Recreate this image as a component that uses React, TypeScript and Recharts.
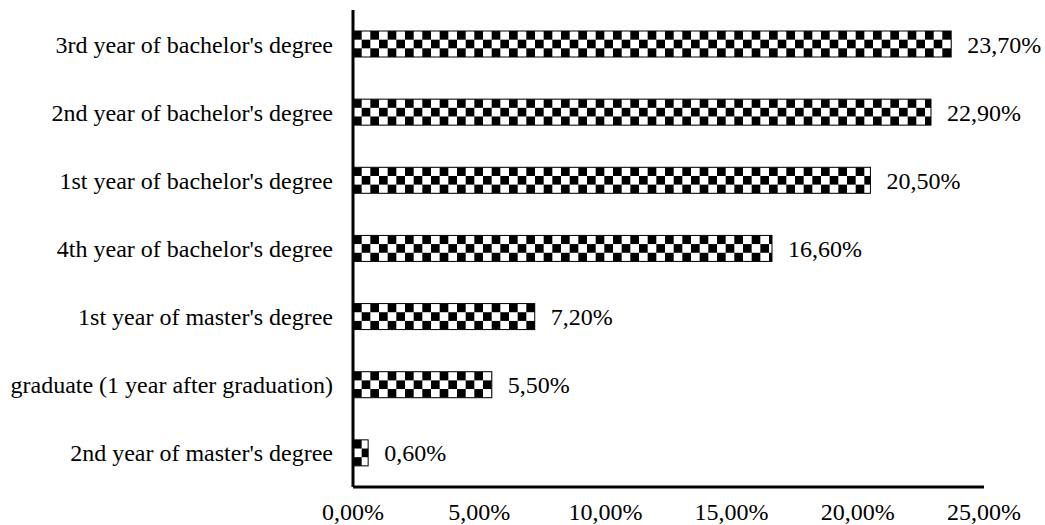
import React from 'react';
import { BarChart, Bar, XAxis, YAxis, LabelList } from 'recharts';

// Share of respondents by year of study (%)
const categories = [
  "3rd year of bachelor's degree",
  "2nd year of bachelor's degree",
  "1st year of bachelor's degree",
  "4th year of bachelor's degree",
  "1st year of master's degree",
  'graduate (1 year after graduation)',
  "2nd year of master's degree",
];
const shares = [23.7, 22.9, 20.5, 16.6, 7.2, 5.5, 0.6];
const xTicks = [0, 5, 10, 15, 20, 25];

const data = categories.map((name, i) => ({ name, value: shares[i] }));

const FONT = "'Times New Roman', 'Liberation Serif', serif";
const fmtPct = (v: number) => v.toFixed(2).replace('.', ',') + '%';

// Checkered bar: each bar gets its own pattern anchored at its top-left corner
const renderCheckerBar = (props: any) => {
  const x = Number(props.x);
  const y = Number(props.y);
  const width = Number(props.width);
  const height = Number(props.height);
  const index = props.index ?? 0;
  if (!isFinite(width) || !isFinite(height) || width <= 0) return <g />;
  const cell = height / 3;
  const id = `checker-${index}`;
  return (
    <g>
      <defs>
        <pattern
          id={id}
          x={x}
          y={y}
          width={cell * 2}
          height={cell * 2}
          patternUnits="userSpaceOnUse"
        >
          <rect x={0} y={0} width={cell * 2} height={cell * 2} fill="#fff" />
          <rect x={0} y={0} width={cell} height={cell} fill="#000" />
          <rect x={cell} y={cell} width={cell} height={cell} fill="#000" />
        </pattern>
      </defs>
      <rect x={x} y={y} width={width} height={height} fill={`url(#${id})`} stroke="#000" strokeWidth={1} />
    </g>
  );
};

export default function App() {
  return (
    <div style={{ position: 'absolute', left: 0, top: 0, background: '#fff' }}>
      <BarChart
        width={1045}
        height={525}
        data={data}
        layout="vertical"
        margin={{ top: 10, right: 61, bottom: 8, left: 0 }}
        barSize={26}
      >
        <XAxis
          type="number"
          domain={[0, 25]}
          ticks={xTicks}
          tickFormatter={fmtPct}
          tickLine={false}
          axisLine={{ stroke: '#000', strokeWidth: 3 }}
          tick={{ fill: '#000', fontSize: 24, fontFamily: FONT }}
          tickMargin={10}
          height={30}
          interval={0}
        />
        <YAxis
          type="category"
          dataKey="name"
          width={353}
          tickLine={false}
          axisLine={{ stroke: '#000', strokeWidth: 3 }}
          tick={{ fill: '#000', fontSize: 24, fontFamily: FONT }}
          tickMargin={14}
          interval={0}
        />
        <Bar dataKey="value" fill="#000" shape={renderCheckerBar} isAnimationActive={false}>
          <LabelList
            dataKey="value"
            position="right"
            offset={16}
            formatter={(v: any) => fmtPct(Number(v))}
            style={{ fill: '#000', fontSize: 24, fontFamily: FONT }}
          />
        </Bar>
      </BarChart>
    </div>
  );
}
